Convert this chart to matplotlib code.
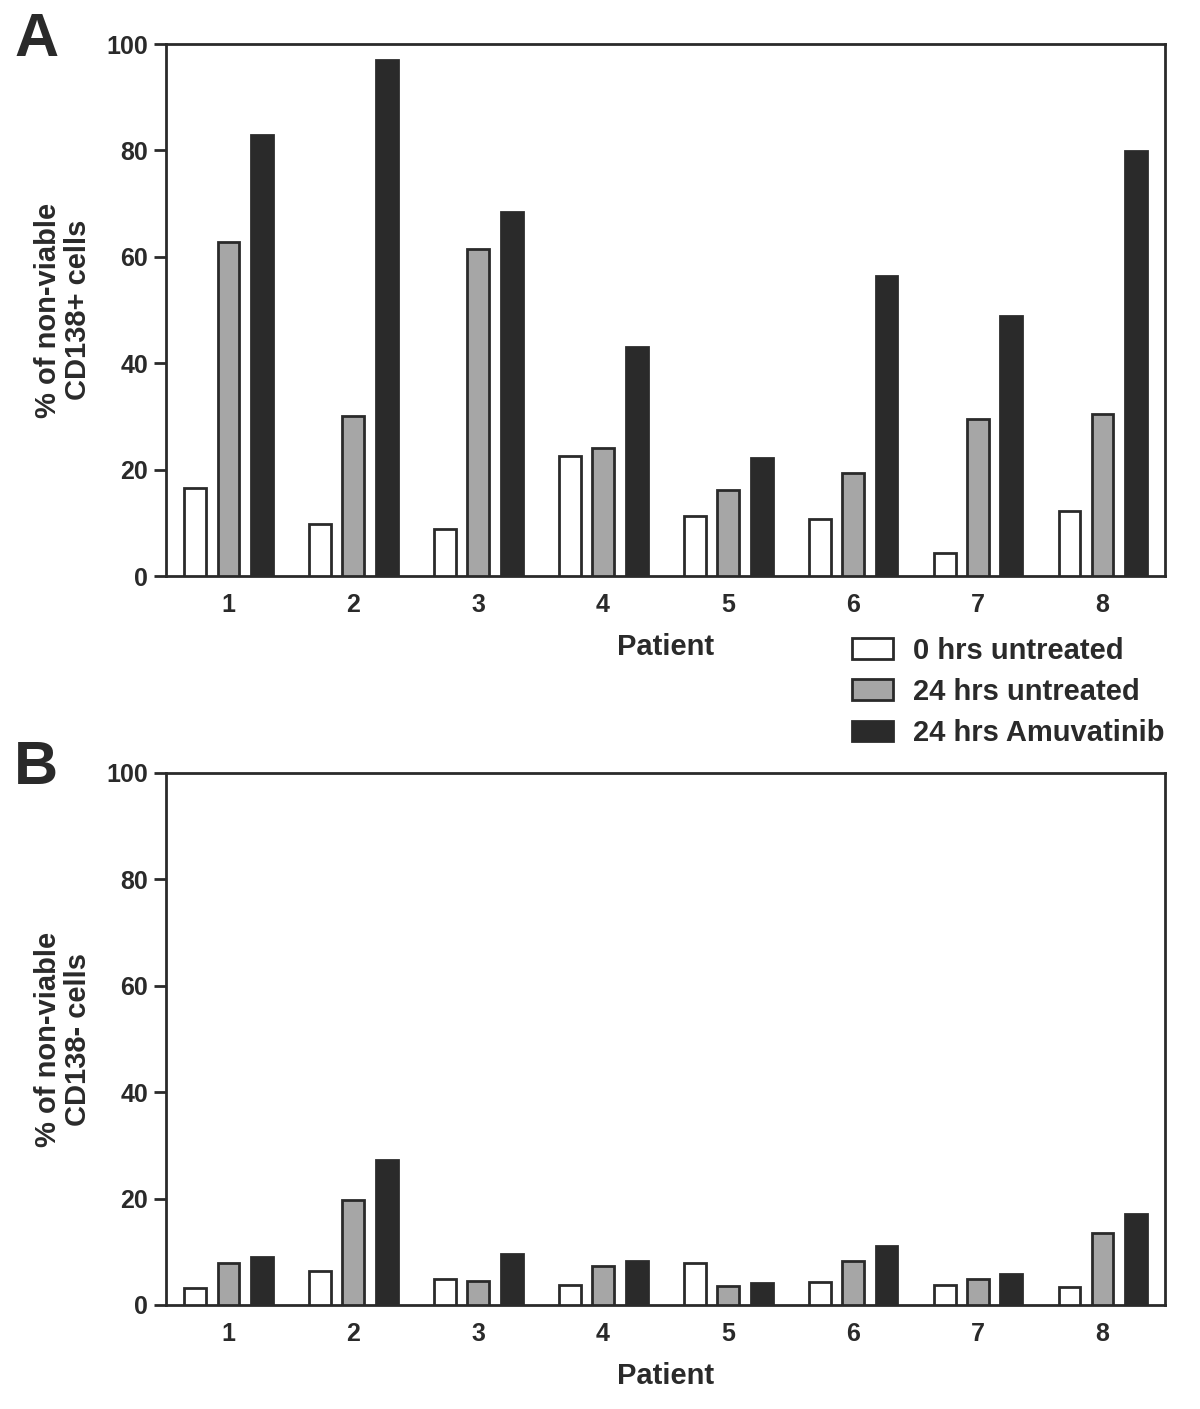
import numpy as np
import matplotlib
matplotlib.use('Agg')
import matplotlib.pyplot as plt
from matplotlib.patches import Patch

# ---------------- data ----------------
patients = ['1', '2', '3', '4', '5', '6', '7', '8']
series = ['0 hrs untreated', '24 hrs untreated', '24 hrs Amuvatinib']

cd138_pos_0h = [16.5, 9.8, 8.8, 22.6, 11.3, 10.7, 4.3, 12.2]
cd138_pos_24h = [62.8, 30.1, 61.5, 24.1, 16.2, 19.4, 29.5, 30.5]
cd138_pos_amu = [82.9, 97.0, 68.4, 43.0, 22.2, 56.4, 48.9, 79.9]

cd138_neg_0h = [3.2, 6.4, 4.9, 3.8, 7.9, 4.3, 3.8, 3.4]
cd138_neg_24h = [7.9, 19.7, 4.5, 7.3, 3.6, 8.3, 4.9, 13.5]
cd138_neg_amu = [9.0, 27.3, 9.6, 8.3, 4.1, 11.1, 5.8, 17.1]

# ---------------- style ----------------
dark = '#2a2a2a'
fills = ['white', '#a6a6a6', dark]
plt.rcParams['font.family'] = ['Liberation Sans', 'DejaVu Sans']
plt.rcParams['font.weight'] = 'bold'
plt.rcParams['text.color'] = dark
plt.rcParams['axes.labelcolor'] = dark
plt.rcParams['xtick.color'] = dark
plt.rcParams['ytick.color'] = dark

fig = plt.figure(figsize=(12, 14.09), dpi=100)

W, H = 1200, 1409


def draw_panel(rect, vals, ylabel, letter, letter_y):
    l, t, r, b = rect
    ax = fig.add_axes([l / W, 1 - b / H, (r - l) / W, (b - t) / H])
    x = np.arange(1, len(patients) + 1)
    offs = [-0.265, 0.0, 0.27]
    for v, off, fc in zip(vals, offs, fills):
        ax.bar(x + off, v, width=0.175, color=fc, edgecolor=dark,
               linewidth=2.0, zorder=3)
    ax.set_xlim(0.5, 8.5)
    ax.set_ylim(0, 100)
    ax.set_yticks(range(0, 101, 20))
    ax.set_xticks(x)
    ax.set_xticklabels(patients)
    for s in ax.spines.values():
        s.set_linewidth(2.0)
        s.set_color(dark)
    ax.tick_params(axis='y', length=9, width=2.0, labelsize=18, pad=4)
    ax.tick_params(axis='x', length=0, labelsize=18, pad=12)
    ax.set_xlabel('Patient', fontsize=21, fontweight='bold', labelpad=12)
    ax.set_ylabel(ylabel, fontsize=21, fontweight='bold', labelpad=10,
                  linespacing=1.1)
    fig.text(14 / W, 1 - letter_y / H, letter, fontsize=44,
             fontweight='bold', va='center', ha='left')
    return ax


axA = draw_panel((166, 44, 1165, 576),
                 [cd138_pos_0h, cd138_pos_24h, cd138_pos_amu],
                 '% of non-viable\nCD138+ cells', 'A', 40)
axB = draw_panel((166, 773, 1165, 1305),
                 [cd138_neg_0h, cd138_neg_24h, cd138_neg_amu],
                 '% of non-viable\nCD138- cells', 'B', 768)

handles = [Patch(facecolor=fc, edgecolor=dark, linewidth=2.0) for fc in fills]
fig.legend(handles, series, loc='upper left',
           bbox_to_anchor=(840 / W, 1 - 625 / H), frameon=False,
           fontsize=21, handlelength=1.4, handleheight=0.7,
           handletextpad=0.7, labelspacing=0.45, borderaxespad=0)

fig.savefig('out.png', dpi=100)
